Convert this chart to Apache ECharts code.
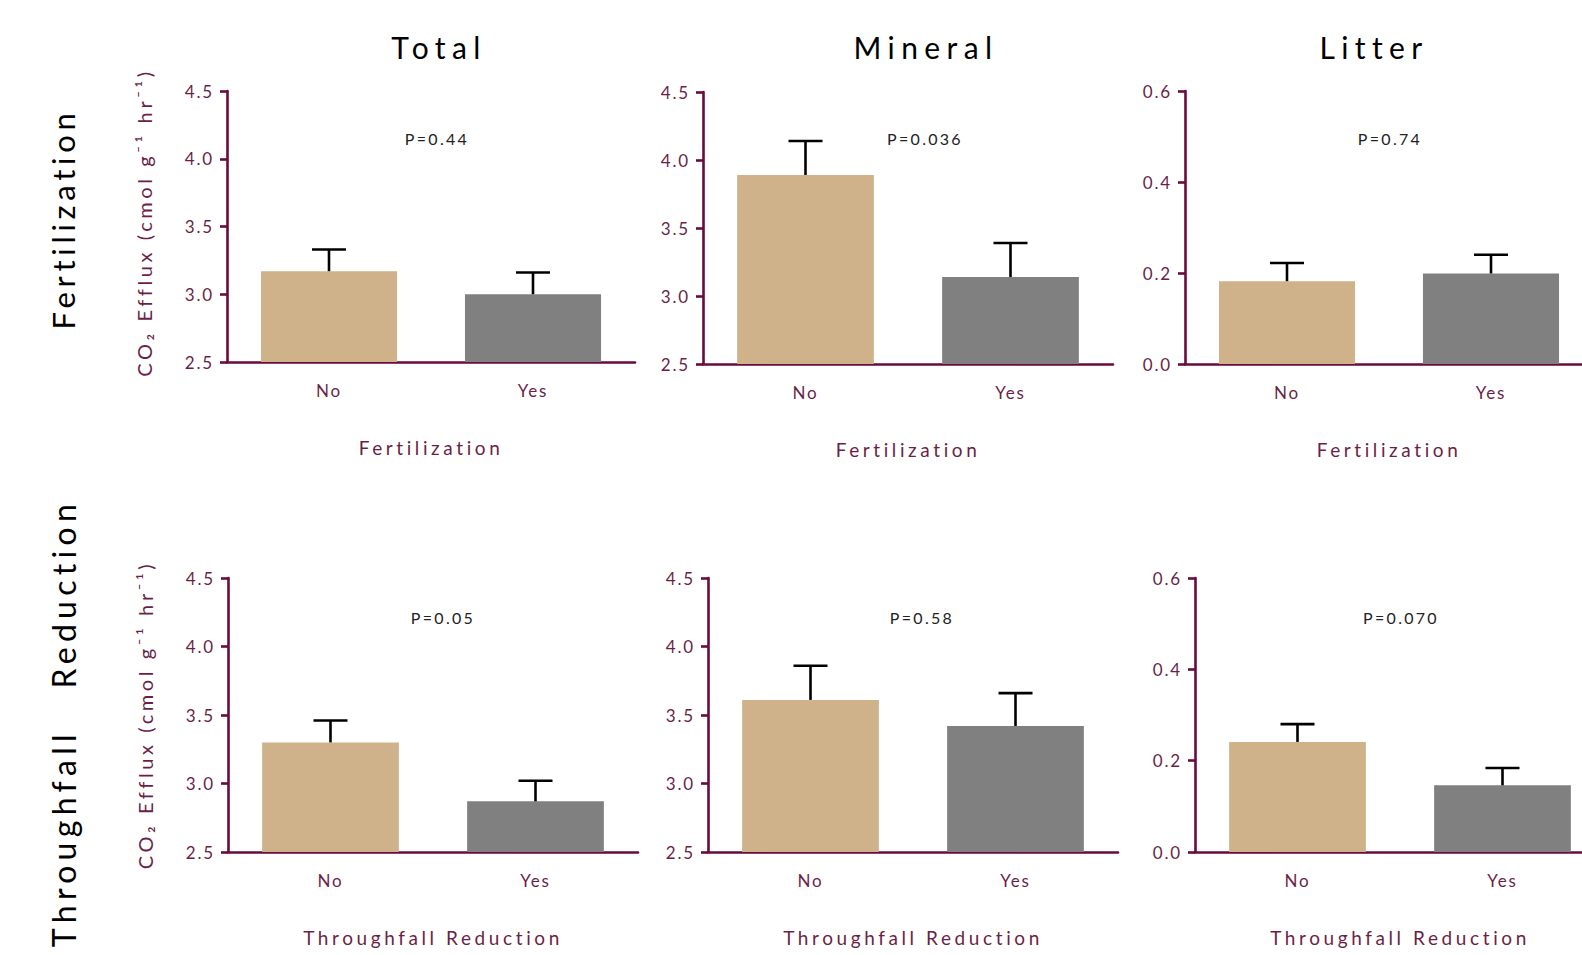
<!DOCTYPE html>
<html>
<head>
<meta charset="utf-8">
<title>Soil CO2 efflux by treatment</title>
<script src="https://cdn.jsdelivr.net/npm/echarts@6/dist/echarts.min.js"></script>
<style>
  html, body { margin: 0; padding: 0; background: #ffffff; }
  #chart { width: 1582px; height: 955px; }
  /* tracking per text role (roles are told apart by font size) */
  #chart svg text[style*="30px"] { letter-spacing: 6.4px; }
  #chart svg text[style*="31px"] { letter-spacing: 4.7px; }
  #chart svg text[style*="32px"] { letter-spacing: 5.3px; }
  #chart svg text[style*="20px"] { letter-spacing: 3.6px; }
  #chart svg text[style*="19px"] { letter-spacing: 3.6px; }
  #chart svg text[style*="17px"] { letter-spacing: 1.8px; }
  #chart svg text[style*="16px"] { letter-spacing: 2.3px; }
</style>
</head>
<body>
<div id="chart"></div>
<script>
// ---- data -------------------------------------------------------------
const categories = ['No', 'Yes'];
const columnTitles = ['Total', 'Mineral', 'Litter'];
const rowFactors = ['Fertilization', 'Throughfall   Reduction'];
const xAxisNames = ['Fertilization', 'Throughfall Reduction'];
const yAxisTitle = 'CO\u2082 Efflux (cmol g\u207B\u00B9 hr\u207B\u00B9)';

// mean CO2 efflux and standard error, per panel
const fertTotalMean = [3.17, 3.00];
const fertTotalSem = [0.16, 0.16];
const fertMineralMean = [3.89, 3.14];
const fertMineralSem = [0.25, 0.25];
const fertLitterMean = [0.182, 0.199];
const fertLitterSem = [0.040, 0.041];
const trTotalMean = [3.30, 2.87];
const trTotalSem = [0.16, 0.15];
const trMineralMean = [3.61, 3.42];
const trMineralSem = [0.25, 0.24];
const trLitterMean = [0.241, 0.146];
const trLitterSem = [0.039, 0.038];

const pValues = ['P=0.44', 'P=0.036', 'P=0.74', 'P=0.05', 'P=0.58', 'P=0.070'];

// y scales: [min, max, step]
const soilScale = [2.5, 4.5, 0.5];
const litterScale = [0.0, 0.6, 0.2];

// ---- styling / layout ---------------------------------------------------
const FONT = 'Lato, "Open Sans", sans-serif';
const axisColor = '#6a0b3c';
const axisTextColor = '#6b1f48';
const barColors = ['#cfb28a', '#808080'];

const panels = [
  { mean: fertTotalMean,   sem: fertTotalSem,   scale: soilScale,   row: 0, col: 0, box: { left: 227, top: 91, width: 408, height: 271 }, p: [437, 138] },
  { mean: fertMineralMean, sem: fertMineralSem, scale: soilScale,   row: 0, col: 1, box: { left: 703, top: 92, width: 410, height: 272 }, p: [925, 138] },
  { mean: fertLitterMean,  sem: fertLitterSem,  scale: litterScale, row: 0, col: 2, box: { left: 1185, top: 91, width: 408, height: 273 }, p: [1390, 138] },
  { mean: trTotalMean,     sem: trTotalSem,     scale: soilScale,   row: 1, col: 0, box: { left: 228, top: 578, width: 410, height: 274 }, p: [443, 617] },
  { mean: trMineralMean,   sem: trMineralSem,   scale: soilScale,   row: 1, col: 1, box: { left: 708, top: 578, width: 410, height: 274 }, p: [922, 617] },
  { mean: trLitterMean,    sem: trLitterSem,    scale: litterScale, row: 1, col: 2, box: { left: 1195, top: 578, width: 410, height: 274 }, p: [1401, 617] }
];

// whisker: vertical line from the bar top to mean + SEM, with a cap
function renderErrorBar(params, api) {
  const idx = api.value(0);
  const base = api.coord([idx, api.value(1)]);
  const tip = api.coord([idx, api.value(2)]);
  const half = 17;
  const st = { stroke: '#000000', lineWidth: 2.6 };
  return {
    type: 'group',
    children: [
      { type: 'line', shape: { x1: base[0], y1: base[1], x2: tip[0], y2: tip[1] }, style: st },
      { type: 'line', shape: { x1: tip[0] - half, y1: tip[1], x2: tip[0] + half, y2: tip[1] }, style: st }
    ]
  };
}

const grid = [], xAxis = [], yAxis = [], series = [], graphic = [];

panels.forEach((pn, i) => {
  grid.push(Object.assign({ containLabel: false, outerBoundsMode: 'none' }, pn.box));

  xAxis.push({
    type: 'category',
    gridIndex: i,
    data: categories,
    name: xAxisNames[pn.row],
    nameLocation: 'middle',
    nameGap: 76,
    nameTextStyle: { color: axisTextColor, fontSize: 19, fontFamily: FONT },
    axisLine: { onZero: false, lineStyle: { color: axisColor, width: 2.6 } },
    axisTick: { alignWithLabel: true, length: 7, lineStyle: { color: axisColor, width: 2.6 } },
    axisLabel: { color: axisTextColor, fontSize: 17, fontFamily: FONT, margin: 20 }
  });

  yAxis.push({
    type: 'value',
    gridIndex: i,
    min: pn.scale[0],
    max: pn.scale[1],
    interval: pn.scale[2],
    name: pn.col === 0 ? yAxisTitle : '',
    nameLocation: 'middle',
    nameGap: 73,
    nameTextStyle: {
      color: axisTextColor, fontSize: 20, fontFamily: FONT,
      padding: pn.row === 0 ? [0, 0, 0, 8] : 0
    },
    splitLine: { show: false },
    axisLine: { show: true, lineStyle: { color: axisColor, width: 2.6 } },
    axisTick: { show: true, length: 7, lineStyle: { color: axisColor, width: 2.6 } },
    axisLabel: {
      color: axisTextColor, fontSize: 17, fontFamily: FONT, margin: 13,
      formatter: v => v.toFixed(1)
    }
  });

  series.push({
    type: 'bar',
    xAxisIndex: i,
    yAxisIndex: i,
    barWidth: '66.7%',
    silent: true,
    data: pn.mean.map((v, k) => ({ value: v, itemStyle: { color: barColors[k] } }))
  });

  series.push({
    type: 'custom',
    xAxisIndex: i,
    yAxisIndex: i,
    silent: true,
    z: 5,
    encode: { x: 0, y: [1, 2] },
    renderItem: renderErrorBar,
    data: pn.mean.map((v, k) => [k, v, v + pn.sem[k]])
  });

  graphic.push({
    type: 'text',
    x: pn.p[0],
    y: pn.p[1],
    style: {
      text: pValues[i], fill: '#222222', fontSize: 16, fontFamily: FONT,
      textAlign: 'center', textVerticalAlign: 'middle'
    }
  });
});

// column headings
[439, 926, 1374].forEach((x, c) => {
  graphic.push({
    type: 'text', x: x, y: 47,
    style: {
      text: columnTitles[c], fill: '#000000', fontSize: 30, fontFamily: FONT,
      textAlign: 'center', textVerticalAlign: 'middle'
    }
  });
});

// row headings, reading bottom to top
[[63, 219, 31], [63, 723, 32]].forEach((pos, r) => {
  graphic.push({
    type: 'text', x: pos[0], y: pos[1], rotation: Math.PI / 2,
    style: {
      text: rowFactors[r], fill: '#000000', fontSize: pos[2], fontFamily: FONT,
      textAlign: 'center', textVerticalAlign: 'middle'
    }
  });
});

const chart = echarts.init(document.getElementById('chart'), null, { renderer: 'svg' });
chart.setOption({
  backgroundColor: '#ffffff',
  animation: false,
  grid: grid,
  xAxis: xAxis,
  yAxis: yAxis,
  series: series,
  graphic: graphic
});
</script>
</body>
</html>
